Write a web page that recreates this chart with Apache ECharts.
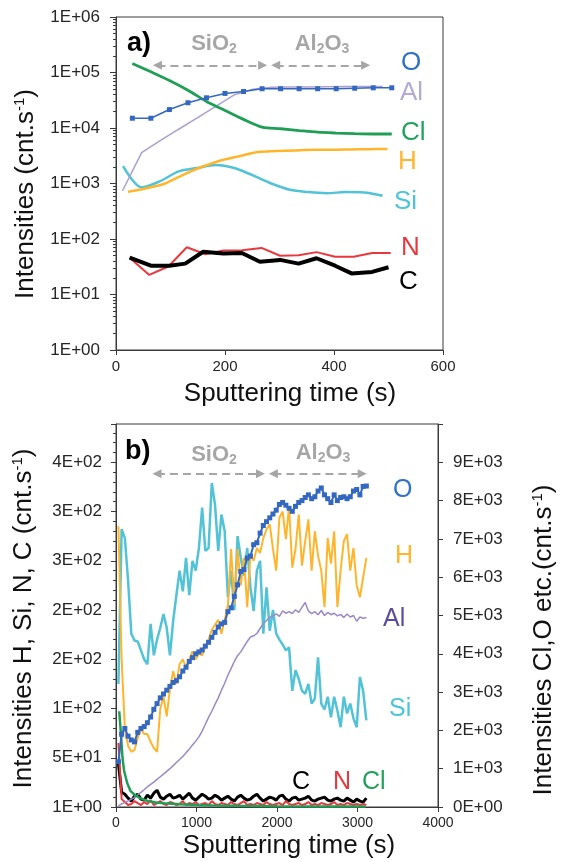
<!DOCTYPE html>
<html>
<head>
<meta charset="utf-8">
<script src="https://cdn.jsdelivr.net/npm/echarts@6/dist/echarts.min.js"></script>
<style>html,body{margin:0;padding:0;background:#fff}#c{width:565px;height:862px}</style>
</head>
<body>
<div id="c"></div>
<script>
// ---------- Chart a) data (log scale, cnt/s) ----------
const tA_O  = [30,64,98,132,166,200,234,268,302,336,370,404,438,472,506];
const O_a   = [15000,15000,21500,28500,35000,42000,45500,51000,51000,51000,51000,51000,52000,53000,53000];
const tA_Al = [12,47,81,115,149,183,217,251,285,319,353,387,421,455,489];
const Al_a  = [740,3600,5900,9500,15200,24500,39500,50000,54000,55000,55000,55500,56000,56000,56000];
const tA_Cl = [30,64,98,132,166,200,234,268,302,336,370,404,438,472,506];
const Cl_a  = [145000,103000,72000,48000,30000,20700,14300,10400,9700,9000,8400,8100,7900,7800,7800];
const tA_H  = [22,56,90,124,158,192,226,260,294,328,362,396,430,464,498];
const H_a   = [710,820,1000,1450,2000,2600,3100,3700,3850,3950,4050,4050,4100,4150,4200];
const tA_Si = [13,47,81,115,149,183,217,251,285,319,353,387,421,455,489];
const Si_a  = [2050,850,1100,1650,1900,2150,1900,1400,1000,770,700,670,700,690,600];
const tA_N  = [25,61,96,130,164,197,231,267,301,335,368,402,436,470,504];
const N_a   = [46,22.5,32,71,53,62,63,69,50,51,58,48,48,56,56];
const tA_C  = [25,64,98,127,160,197,231,264,301,335,368,402,432,470,500];
const C_a   = [46,33,33,36,59,55,56,39,42,36,45,33,24,25.5,31];
const yTickLabelsA = ['1E+00','1E+01','1E+02','1E+03','1E+04','1E+05','1E+06'];

// ---------- Chart b) data ----------
const tB = [30,70,110,150,190,230,270,310,350,390,
            430,470,510,550,590,630,670,710,750,790,
            830,870,910,950,990,1030,1070,1110,1150,1190,
            1230,1270,1310,1350,1390,1430,1470,1510,1550,1590,
            1630,1670,1710,1750,1790,1830,1870,1910,1950,1990,
            2030,2070,2110,2150,2190,2230,2270,2310,2350,2390,
            2430,2470,2510,2550,2590,2630,2670,2710,2750,2790,
            2830,2870,2910,2950,2990,3030,3070,3110];
// right axis (Cl, O etc.)
const O_b = [1180,1900,2050,1850,1750,1700,1950,2050,2100,2200,
             2350,2550,2700,2850,2950,3050,3150,3250,3300,3400,
             3550,3650,3800,3900,4000,4050,4100,4200,4300,4430,
             4560,4700,4780,4820,5100,5200,5500,5800,6150,6200,
             6500,6550,6850,6900,7150,7350,7450,7550,7650,7750,
             7900,7950,7880,7800,7720,7850,7950,8000,8080,8150,
             8050,8100,8250,8330,8150,8050,7950,8150,8000,8080,
             8100,8050,8100,8250,8290,8150,8370,8380];
const Al_b = [30,80,120,160,200,250,320,380,450,530,
              590,650,720,790,860,930,1000,1080,1160,1240,
              1320,1420,1510,1620,1720,1830,1980,2160,2340,2500,
              2680,2850,3050,3230,3440,3620,3800,3950,4050,4190,
              4320,4440,4470,4530,4660,4790,4870,4950,4990,5040,
              4980,5120,5060,5100,5050,5150,5080,5210,5340,5120,
              5050,5100,5020,5130,5000,5080,5020,5060,4990,5030,
              4950,5040,4960,5000,4850,4960,4930,4950];
const tB_Cl = [40,60,80,100,140,180,240,300,400,500,600,800,1000,1200,1500,2000,2500,3100];
const Cl_b  = [2500,1950,1300,950,620,420,300,230,150,120,95,70,52,40,30,20,15,10];
// left axis (H, Si, N, C)
const H_b = [285,150,80,62,56,58,70,79,74,74,
             66,60,56,100,112,92,120,138,125,145,
             150,142,150,158,150,156,154,162,170,180,
             185,190,176,190,205,262,206,262,225,253,
             203,256,250,263,258,273,282,287,262,240,
             294,300,272,305,243,262,297,245,270,292,
             240,280,255,240,203,273,247,280,203,240,
             270,277,240,263,225,213,233,253];
const Si_b = [125,282,273,230,176,169,168,159,150,145,
              186,154,170,182,196,182,154,189,215,240,
              219,253,215,250,240,263,304,260,263,329,
              307,260,297,280,213,240,200,275,253,235,
              263,223,199,240,250,176,223,179,200,176,
              170,165,159,162,118,139,130,118,115,125,
              105,110,152,105,99,112,91,112,98,81,
              112,95,105,90,81,132,118,88];
const C_b = [44,15,13,9,6,11,13,8,7,12,
             9,14,17,10,8,11,13,9,10,12,
             8,11,14,9,7,10,13,11,8,9,
             12,10,7,9,11,8,6,10,12,9,
             7,8,11,13,9,6,8,10,9,7,
             11,12,8,6,9,10,7,8,9,11,
             7,6,8,9,10,7,6,8,9,7,
             6,9,7,5,8,6,5,9];
const N_b = [65,8,5,2,3,6,4,2,5,3,
             7,2,4,6,3,2,5,4,2,3,
             6,2,4,3,5,2,3,4,2,6,
             3,2,4,3,2,5,3,2,4,6,
             2,3,2,4,3,2,5,3,2,3,
             4,2,6,3,2,3,4,2,3,5,
             2,3,2,4,3,2,3,5,2,3,
             2,4,3,2,3,2,3,2];
const yTickLabelsBLeft  = ['1E+00','5E+01','1E+02','2E+02','2E+02','3E+02','3E+02','4E+02'];
const yTickLabelsBRight = ['0E+00','1E+03','2E+03','3E+03','4E+03','5E+03','6E+03','7E+03','8E+03','9E+03'];

// layer arrows (data coordinates)
const arrowsA_x = [[76,269],[293,458]];
const arrowsA_y = 135000;
const arrowsB_x = [[509,1795],[1955,3058]];
const arrowsB_y = 8700;

// ---------- helpers ----------
const zip = (xs, ys) => xs.map((x, i) => [x, ys[i]]);
const AX = '#3a3a3a';
const FONT = 'Liberation Sans';
const TICKC = '#262626';

const minorLog = [];
for (let d = 0; d < 6; d++) for (let k = 2; k <= 9; k++) minorLog.push(d + Math.log10(k));

const LEFT_MAX_B = 350 * 10000 / 9000;

function line(name, xi, yi, xs, ys, color, width, extra) {
  return Object.assign({
    name, type: 'line', xAxisIndex: xi, yAxisIndex: yi,
    data: zip(xs, ys), showSymbol: false, symbol: 'none',
    lineStyle: { color, width }, itemStyle: { color },
    emphasis: { disabled: true }, silent: true, animation: false
  }, extra || {});
}

function arrowMark(xsPairs, y) {
  return {
    silent: true, symbol: ['triangle', 'triangle'], symbolSize: 9,
    label: { show: false },
    lineStyle: { color: '#a6a6a6', width: 2, type: [8, 5] },
    itemStyle: { color: '#a6a6a6' },
    emphasis: { disabled: true },
    data: xsPairs.map(p => [{ coord: [p[0], y] }, { coord: [p[1], y] }])
  };
}

const nameStyle = (pad) => ({
  fontFamily: FONT, fontSize: 26, color: '#111', padding: pad,
  rich: {
    a: { fontFamily: FONT, fontSize: 26, color: '#111', lineHeight: 28 },
    s: { fontFamily: FONT, fontSize: 15, color: '#111', verticalAlign: 'top', lineHeight: 28 }
  }
});

const chart = echarts.init(document.getElementById('c'), null, { renderer: 'canvas' });

const option = {
  animation: false,
  backgroundColor: '#fff',
  grid: [
    { left: 116, top: 17, width: 327, height: 333, show: true, borderColor: AX, borderWidth: 1, backgroundColor: 'transparent', containLabel: false },
    { left: 116, top: 424, width: 326, height: 383, show: true, borderColor: AX, borderWidth: 1, backgroundColor: 'transparent', containLabel: false }
  ],
  xAxis: [
    { gridIndex: 0, type: 'value', min: 0, max: 600, interval: 200,
      axisLine: { onZero: false, lineStyle: { color: AX, width: 1 } },
      axisTick: { show: true, inside: false, length: 5, lineStyle: { color: AX } },
      axisLabel: { fontFamily: FONT, fontSize: 15, color: TICKC, margin: 9, formatter: v => String(v) },
      splitLine: { show: false },
      name: 'Sputtering time (s)', nameLocation: 'middle', nameGap: 31,
      nameTextStyle: { fontFamily: FONT, fontSize: 26, color: '#111', padding: [0, 0, 0, 21] } },
    { gridIndex: 1, type: 'value', min: 0, max: 4000, interval: 1000,
      axisLine: { onZero: false, lineStyle: { color: AX, width: 1 } },
      axisTick: { show: true, inside: false, length: 5, lineStyle: { color: AX } },
      axisLabel: { fontFamily: FONT, fontSize: 14, color: TICKC, margin: 9, formatter: v => String(v) },
      splitLine: { show: false },
      name: 'Sputtering time (s)', nameLocation: 'middle', nameGap: 26,
      nameTextStyle: { fontFamily: FONT, fontSize: 26, color: '#111', padding: [0, 0, 0, 24] } }
  ],
  yAxis: [
    { gridIndex: 0, type: 'log', logBase: 10, min: 1, max: 1e6, position: 'left',
      axisLine: { lineStyle: { color: AX, width: 1 } },
      axisTick: { show: true, inside: false, length: 6, lineStyle: { color: AX } },
      axisLabel: { fontFamily: FONT, fontSize: 17, color: TICKC, margin: 16,
        formatter: v => yTickLabelsA[Math.round(Math.log10(v))] || '' },
      splitLine: { show: false },
      name: '{a|Intensities (cnt.s}{s|-1}{a|)}', nameLocation: 'middle', nameGap: 76,
      nameTextStyle: nameStyle([0, 21, 0, 0]) },
    { gridIndex: 0, type: 'value', min: 0, max: 6, position: 'left',
      axisLine: { show: false },
      axisTick: { show: true, inside: false, length: 3, customValues: minorLog, lineStyle: { color: AX } },
      axisLabel: { show: false }, splitLine: { show: false } },
    { gridIndex: 1, type: 'value', min: 0, max: LEFT_MAX_B, interval: 50, position: 'left',
      axisLine: { lineStyle: { color: AX, width: 1 } },
      axisTick: { show: true, inside: false, length: 5, lineStyle: { color: AX } },
      minorTick: { show: true, splitNumber: 5, length: 3, lineStyle: { color: AX } },
      axisLabel: { fontFamily: FONT, fontSize: 17, color: TICKC, margin: 14, showMaxLabel: false,
        formatter: v => { const i = Math.round(v / 50); return (Math.abs(v - i * 50) < 1e-6 && i < yTickLabelsBLeft.length) ? yTickLabelsBLeft[i] : ''; } },
      splitLine: { show: false },
      name: '{a|Intensities H, Si, N, C (cnt.s}{s|-1}{a|)}', nameLocation: 'middle', nameGap: 78,
      nameTextStyle: nameStyle([0, 6, 0, 0]) },
    { gridIndex: 1, type: 'value', min: 0, max: 10000, interval: 1000, position: 'right',
      axisLine: { lineStyle: { color: AX, width: 1 } },
      axisTick: { show: true, inside: false, length: 5, lineStyle: { color: AX } },
      axisLabel: { fontFamily: FONT, fontSize: 17, color: TICKC, margin: 15,
        formatter: v => { const i = Math.round(v / 1000); return i < yTickLabelsBRight.length ? yTickLabelsBRight[i] : ''; } },
      splitLine: { show: false },
      name: '{a|Intensities Cl,O etc.(cnt.s}{s|-1}{a|)}', nameLocation: 'middle', nameGap: 92,
      nameTextStyle: nameStyle([0, 49, 0, 0]) }
  ],
  series: [
    // ----- a)
    line('Si a', 0, 0, tA_Si, Si_a, '#52c3d7', 2.5, { smooth: 0.3 }),
    line('H a', 0, 0, tA_H, H_a, '#ffb52b', 2.5, { smooth: 0.3 }),
    line('Al a', 0, 0, tA_Al, Al_a, '#ab9fd2', 1.5),
    line('Cl a', 0, 0, tA_Cl, Cl_a, '#1f9f55', 2.8, { smooth: 0.3, markLine: arrowMark(arrowsA_x, arrowsA_y) }),
    line('N a', 0, 0, tA_N, N_a, '#e8383d', 2),
    line('C a', 0, 0, tA_C, C_a, '#000000', 4),
    line('O a', 0, 0, tA_O, O_a, '#3468c0', 1.5, { showSymbol: true, symbol: 'rect', symbolSize: 5 }),
    // ----- b)
    line('C b', 1, 2, tB, C_b, '#000000', 3),
    line('N b', 1, 2, tB, N_b, '#e8383d', 2),
    line('Si b', 1, 2, tB, Si_b, '#52c3d7', 2.5),
    line('H b', 1, 2, tB, H_b, '#ffb52b', 2),
    line('Al b', 1, 3, tB, Al_b, '#9c88c9', 1.5),
    line('Cl b', 1, 3, tB_Cl, Cl_b, '#1f9f55', 2.5),
    line('O b', 1, 3, tB, O_b, '#3468c0', 2, { showSymbol: true, symbol: 'rect', symbolSize: 5, markLine: arrowMark(arrowsB_x, arrowsB_y) })
  ],
  graphic: [
    // a) annotations
    { type: 'text', x: 127, y: 44, silent: true, style: { text: 'a)', font: 'bold 27px ' + FONT, fill: '#000', verticalAlign: 'middle' } },
    { type: 'text', x: 214, y: 44, silent: true, style: { text: '{n|SiO}{s|2}', align: 'center', verticalAlign: 'middle',
        rich: { n: { font: 'bold 22px ' + FONT, fill: '#a6a6a6', lineHeight: 24 }, s: { font: 'bold 14px ' + FONT, fill: '#a6a6a6', verticalAlign: 'bottom', lineHeight: 20 } } } },
    { type: 'text', x: 322, y: 44, silent: true, style: { text: '{n|Al}{s|2}{n|O}{s|3}', align: 'center', verticalAlign: 'middle',
        rich: { n: { font: 'bold 22px ' + FONT, fill: '#a6a6a6', lineHeight: 24 }, s: { font: 'bold 14px ' + FONT, fill: '#a6a6a6', verticalAlign: 'bottom', lineHeight: 20 } } } },
    { type: 'text', x: 401, y: 63, silent: true, style: { text: 'O', font: '26px ' + FONT, fill: '#2f72c4', verticalAlign: 'middle' } },
    { type: 'text', x: 400, y: 93, silent: true, style: { text: 'Al', font: '26px ' + FONT, fill: '#b3aad5', verticalAlign: 'middle' } },
    { type: 'text', x: 401, y: 133, silent: true, style: { text: 'Cl', font: '26px ' + FONT, fill: '#20a25a', verticalAlign: 'middle' } },
    { type: 'text', x: 398, y: 162, silent: true, style: { text: 'H', font: '26px ' + FONT, fill: '#ffb629', verticalAlign: 'middle' } },
    { type: 'text', x: 394, y: 202, silent: true, style: { text: 'Si', font: '26px ' + FONT, fill: '#4cc4d9', verticalAlign: 'middle' } },
    { type: 'text', x: 401, y: 248, silent: true, style: { text: 'N', font: '26px ' + FONT, fill: '#e8383d', verticalAlign: 'middle' } },
    { type: 'text', x: 399, y: 282, silent: true, style: { text: 'C', font: '26px ' + FONT, fill: '#000', verticalAlign: 'middle' } },
    // b) annotations
    { type: 'text', x: 125, y: 452, silent: true, style: { text: 'b)', font: 'bold 27px ' + FONT, fill: '#000', verticalAlign: 'middle' } },
    { type: 'text', x: 214, y: 455, silent: true, style: { text: '{n|SiO}{s|2}', align: 'center', verticalAlign: 'middle',
        rich: { n: { font: 'bold 22px ' + FONT, fill: '#a6a6a6', lineHeight: 24 }, s: { font: 'bold 14px ' + FONT, fill: '#a6a6a6', verticalAlign: 'bottom', lineHeight: 20 } } } },
    { type: 'text', x: 323, y: 453, silent: true, style: { text: '{n|Al}{s|2}{n|O}{s|3}', align: 'center', verticalAlign: 'middle',
        rich: { n: { font: 'bold 22px ' + FONT, fill: '#a6a6a6', lineHeight: 24 }, s: { font: 'bold 14px ' + FONT, fill: '#a6a6a6', verticalAlign: 'bottom', lineHeight: 20 } } } },
    { type: 'text', x: 393, y: 490, silent: true, style: { text: 'O', font: '25px ' + FONT, fill: '#2f72c4', verticalAlign: 'middle' } },
    { type: 'text', x: 395, y: 556, silent: true, style: { text: 'H', font: '25px ' + FONT, fill: '#ffb629', verticalAlign: 'middle' } },
    { type: 'text', x: 383, y: 619, silent: true, style: { text: 'Al', font: '25px ' + FONT, fill: '#5b4b9b', verticalAlign: 'middle' } },
    { type: 'text', x: 389, y: 709, silent: true, style: { text: 'Si', font: '25px ' + FONT, fill: '#4cc4d9', verticalAlign: 'middle' } },
    { type: 'text', x: 292, y: 782, silent: true, style: { text: 'C', font: '25px ' + FONT, fill: '#000', verticalAlign: 'middle' } },
    { type: 'text', x: 333, y: 782, silent: true, style: { text: 'N', font: '25px ' + FONT, fill: '#e8383d', verticalAlign: 'middle' } },
    { type: 'text', x: 362, y: 782, silent: true, style: { text: 'Cl', font: '25px ' + FONT, fill: '#20a25a', verticalAlign: 'middle' } }
  ]
};
chart.setOption(option);
</script>
</body>
</html>
